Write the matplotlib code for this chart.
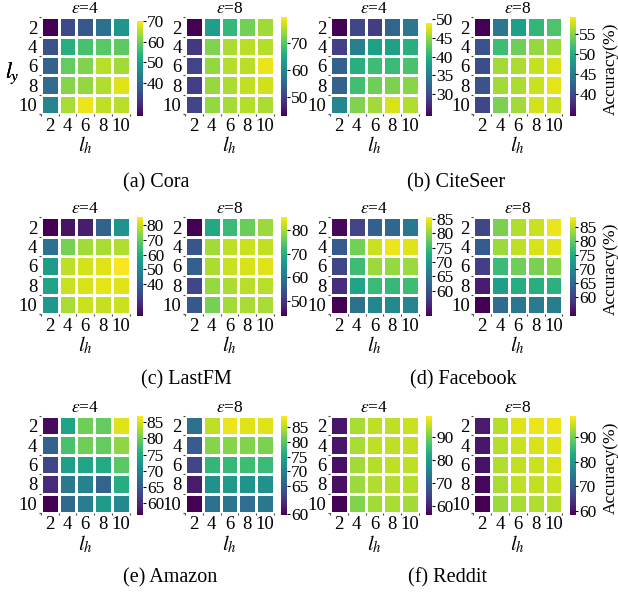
import numpy as np
import matplotlib.pyplot as plt

plt.rcParams['font.family'] = ['Liberation Serif', 'DejaVu Serif']
plt.rcParams['mathtext.fontset'] = 'stix'

# rows: l_y = 2..10, columns: l_h = 2..10, accuracy in %
lh = [2, 4, 6, 8, 10]
ly = [2, 4, 6, 8, 10]
eps = [4, 8]
names = ['(a) Cora', '(b) CiteSeer', '(c) LastFM', '(d) Facebook', '(e) Amazon', '(f) Reddit']

cora_e4 = [[24.0, 34.1, 36.4, 41.0, 47.9],
           [35.5, 53.0, 56.7, 58.0, 58.5],
           [38.3, 59.0, 61.3, 65.0, 63.6],
           [40.1, 61.7, 62.6, 64.5, 67.7],
           [44.7, 64.0, 68.6, 65.4, 65.0]]
cora_e8 = [[43.0, 63.4, 67.4, 71.9, 74.5],
           [48.9, 72.6, 75.2, 75.9, 75.6],
           [50.4, 73.7, 75.6, 75.9, 78.5],
           [49.7, 74.1, 75.2, 76.3, 77.0],
           [50.4, 73.7, 74.8, 75.6, 75.2]]
citeseer_e4 = [[24.2, 29.4, 28.6, 32.1, 34.0],
               [28.9, 34.8, 38.2, 38.2, 39.7],
               [31.8, 39.7, 41.2, 40.9, 41.7],
               [31.8, 41.4, 43.4, 43.9, 44.4],
               [35.5, 44.1, 45.4, 47.3, 45.9]]
citeseer_e8 = [[34.7, 44.5, 48.5, 50.9, 52.4],
               [40.9, 51.7, 53.9, 55.4, 55.6],
               [40.4, 55.9, 56.3, 57.1, 57.8],
               [40.9, 55.9, 56.3, 57.3, 58.3],
               [39.9, 54.4, 55.9, 57.6, 57.3]]
lastfm_e4 = [[18.6, 22.0, 24.0, 39.4, 53.4],
             [43.4, 71.5, 76.2, 76.9, 77.6],
             [55.5, 78.9, 80.9, 82.3, 84.9],
             [57.5, 80.2, 81.6, 82.9, 82.3],
             [54.1, 76.9, 80.2, 79.6, 80.2]]
lastfm_e8 = [[43.6, 68.9, 72.2, 76.0, 79.4],
             [54.5, 79.8, 81.5, 82.3, 81.9],
             [56.2, 80.6, 82.3, 83.2, 83.6],
             [52.4, 79.0, 80.6, 81.1, 81.1],
             [55.0, 76.9, 79.8, 80.2, 80.2]]
facebook_e4 = [[51.9, 58.1, 61.6, 62.6, 65.0],
               [60.9, 78.5, 83.0, 84.8, 84.1],
               [58.5, 75.1, 80.6, 80.3, 80.6],
               [55.7, 71.3, 74.7, 74.4, 75.1],
               [51.2, 64.0, 67.1, 67.5, 66.8]]
facebook_e8 = [[60.9, 81.5, 84.3, 85.7, 87.5],
               [63.3, 83.3, 85.0, 86.4, 86.8],
               [59.8, 77.3, 80.8, 81.5, 82.2],
               [56.3, 73.1, 75.2, 75.6, 75.9],
               [53.5, 65.8, 67.5, 67.9, 68.2]]
amazon_e4 = [[57.3, 74.2, 80.3, 79.7, 85.6],
             [65.9, 78.2, 80.3, 79.7, 81.9],
             [62.8, 73.6, 74.5, 75.1, 79.1],
             [60.1, 68.7, 69.9, 66.2, 75.4],
             [56.4, 66.8, 69.3, 73.3, 70.8]]
amazon_e8 = [[67.8, 85.6, 88.0, 87.3, 87.3],
             [65.1, 82.9, 82.9, 82.6, 82.3],
             [62.4, 77.5, 77.9, 78.6, 78.2],
             [57.7, 72.2, 73.5, 72.8, 72.2],
             [55.3, 67.8, 68.4, 67.4, 68.8]]
reddit_e4 = [[59.1, 93.7, 95.0, 95.0, 95.9],
             [59.1, 93.7, 95.0, 95.0, 95.4],
             [58.2, 93.3, 94.6, 95.0, 95.0],
             [58.2, 92.9, 94.2, 94.6, 94.6],
             [56.5, 91.2, 93.3, 93.7, 93.3]]
reddit_e8 = [[61.5, 94.1, 96.5, 97.3, 97.3],
             [61.1, 94.1, 95.3, 96.1, 96.5],
             [60.7, 93.7, 94.9, 95.3, 96.1],
             [59.5, 93.3, 94.5, 94.9, 95.3],
             [58.7, 92.5, 93.3, 93.7, 94.1]]

panels = [cora_e4, cora_e8, citeseer_e4, citeseer_e8, lastfm_e4, lastfm_e8,
          facebook_e4, facebook_e8, amazon_e4, amazon_e8, reddit_e4, reddit_e8]

# colour range of each panel (vmin, vmax, top of colorbar axis)
cranges = [(24.0, 70.0, 72.2), (43.0, 79.7, 79.7), (24.2, 48.8, 50.6), (34.7, 59.3, 59.3),
           (18.6, 85.6, 85.6), (43.6, 85.7, 85.7), (51.2, 85.8, 85.8), (53.5, 88.5, 88.5),
           (56.4, 87.1, 87.1), (55.3, 89.0, 89.0), (56.5, 99.3, 99.3), (58.7, 98.5, 98.5)]
cticks = [[40, 50, 60, 70], [50, 60, 70], [30, 35, 40, 45, 50], [40, 45, 50, 55],
          [40, 50, 60, 70, 80], [50, 60, 70, 80], [60, 65, 70, 75, 80, 85],
          [60, 65, 70, 75, 80, 85], [60, 65, 70, 75, 80, 85],
          [55.5, 65, 70, 75, 80, 85], [60, 70, 80, 90], [60, 70, 80, 90]]
clabels = [None] * 9 + [['60', '65', '70', '75', '80', '85'], None, None]

W, H = 618, 596
fig = plt.figure(figsize=(W / 100, H / 100), dpi=100)


def box(x0, y0, w, h):
    return [x0 / W, 1 - (y0 + h) / H, w / W, h / H]


col_x = [[40.7, 185.0], [330.0, 473.3]]
row_y = [17.3, 217.3, 416.0]
cap_x = [[156, 456], [186, 463], [170, 447]]
cap_y = [183, 380, 578]

for k, vals in enumerate(panels):
    d = k // 2
    e = k % 2
    r, c = d // 2, d % 2
    x0 = col_x[c][e]
    y0 = row_y[r]
    vmin, vmax, ctop = cranges[k]

    ax = fig.add_axes(box(x0, y0, 89, 97))
    ax.pcolormesh(np.arange(6), np.arange(6), np.array(vals), cmap='viridis',
                  vmin=vmin, vmax=vmax, edgecolors='white', linewidth=0.9)
    ax.set_xlim(0, 5)
    ax.set_ylim(5, 0)
    ax.set_xticks(np.arange(5) + 0.5, labels=lh)
    ax.set_yticks(np.arange(5) + 0.5, labels=ly)
    ax.set_xticks(np.arange(6), minor=True)
    ax.set_yticks(np.arange(6), minor=True)
    ax.tick_params(which='major', length=0, labelsize=13.5, pad=2.5)
    ax.tick_params(which='minor', length=1.5, width=0.8, color='#444444')
    for s in ax.spines.values():
        s.set_visible(False)
    ax.set_title(r'$\varepsilon$=%d' % eps[e], fontsize=12.5, pad=2)
    ax.set_xlabel('$l_h$', fontsize=15, labelpad=0)
    if c == 0 and e == 0:
        fig.text(12 / W, 1 - 73 / H, '$l_y$', fontsize=15.5, ha='center', va='center')

    cax = fig.add_axes(box(x0 + 96.3, y0 - 0.5, 5.6, 99))
    grad = np.linspace(vmin, vmax, 256).reshape(-1, 1)
    cax.imshow(grad, extent=[0, 1, vmin, vmax], origin='lower', aspect='auto',
               cmap='viridis', vmin=vmin, vmax=vmax)
    cax.set_xlim(0, 1)
    cax.set_ylim(vmin, ctop)
    cax.yaxis.tick_right()
    cax.set_xticks([])
    if clabels[k] is None:
        cax.set_yticks(cticks[k], labels=[str(t) for t in cticks[k]])
    else:
        cax.set_yticks(cticks[k], labels=clabels[k])
    cax.tick_params(length=2, width=0.8, pad=1, labelsize=12.5)
    for s in cax.spines.values():
        s.set_visible(False)

    if e == 1 and c == 1:
        fig.text(611 / W, 1 - (y0 + 52) / H, 'Accuracy(%)', rotation=90,
                 fontsize=12.5, ha='center', va='center')
    if e == 0:
        fig.text(cap_x[r][c] / W, 1 - cap_y[r] / H, names[d], fontsize=14.5,
                 ha='center', va='center')

fig.savefig('out.png', dpi=100)
